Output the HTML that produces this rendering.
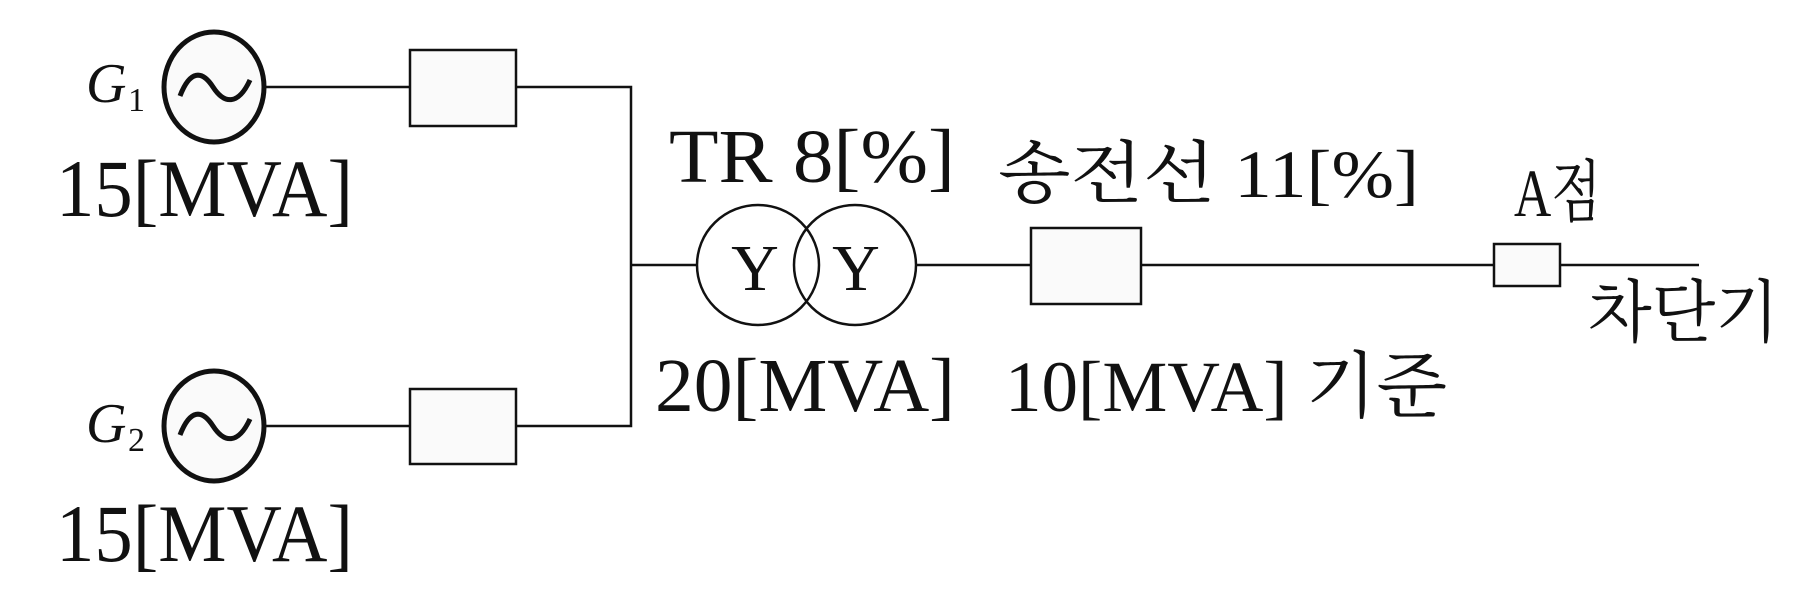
<!DOCTYPE html>
<html><head><meta charset="utf-8"><style>
html,body{margin:0;padding:0;background:#fff;}
svg{display:block;}
text{font-family:"Liberation Serif","Noto Serif CJK SC","Noto Sans CJK KR",serif;fill:#111;}
</style></head><body>
<svg width="1815" height="612" viewBox="0 0 1815 612" xmlns="http://www.w3.org/2000/svg">
<g stroke="#111" fill="none">
<ellipse cx="214" cy="87" rx="50" ry="55" stroke-width="5" fill="#fafafa"/>
<ellipse cx="214" cy="426" rx="50" ry="55" stroke-width="5" fill="#fafafa"/>
<path d="M180 96 C190 70 202 70 213 87 S238 106 250 80" stroke-width="5"/>
<path d="M180 435 C190 409 202 409 213 426 S238 445 250 419" stroke-width="5"/>
<g stroke-width="2.5">
<line x1="264" y1="87" x2="410" y2="87"/>
<line x1="264" y1="426" x2="410" y2="426"/>
<rect x="410" y="50" width="106" height="76" fill="#fafafa"/>
<rect x="410" y="389" width="106" height="75" fill="#fafafa"/>
<polyline points="516,87 631,87 631,426 516,426"/>
<line x1="630" y1="265" x2="697" y2="265"/>
<ellipse cx="758" cy="265" rx="61" ry="60"/>
<ellipse cx="855" cy="265" rx="61" ry="60"/>
<line x1="916" y1="265" x2="1031" y2="265"/>
<rect x="1031" y="228" width="110" height="76" fill="#fafafa"/>
<line x1="1141" y1="265" x2="1494" y2="265"/>
<rect x="1494" y="244" width="66" height="42" fill="#fafafa"/>
<line x1="1560" y1="265" x2="1699" y2="265"/>
</g>
</g>
<text x="86" y="102" font-size="56" font-style="italic">G</text>
<text x="128" y="111" font-size="34">1</text>
<text x="86" y="442" font-size="56" font-style="italic">G</text>
<text x="128" y="451" font-size="34">2</text>
<text x="56" y="216" font-size="82" textLength="297" lengthAdjust="spacingAndGlyphs">15[MVA]</text>
<text x="56" y="561" font-size="82" textLength="297" lengthAdjust="spacingAndGlyphs">15[MVA]</text>
<text x="669" y="182" font-size="76" textLength="286" lengthAdjust="spacingAndGlyphs">TR 8[%]</text>
<text x="655" y="411" font-size="76" textLength="300" lengthAdjust="spacingAndGlyphs">20[MVA]</text>
<text x="755" y="290" font-size="66" text-anchor="middle">Y</text>
<text x="856" y="290" font-size="66" text-anchor="middle">Y</text>
<text x="998" y="197" font-size="68" textLength="421" lengthAdjust="spacingAndGlyphs">송전선 11[%]</text>
<text x="1005" y="411" font-size="72" textLength="442" lengthAdjust="spacingAndGlyphs">10[MVA] 기준</text>
<text x="1514" y="216" font-size="68" textLength="87" lengthAdjust="spacingAndGlyphs">A점</text>
<text x="1588" y="336" font-size="68" textLength="191" lengthAdjust="spacingAndGlyphs">차단기</text>
</svg>
</body></html>
